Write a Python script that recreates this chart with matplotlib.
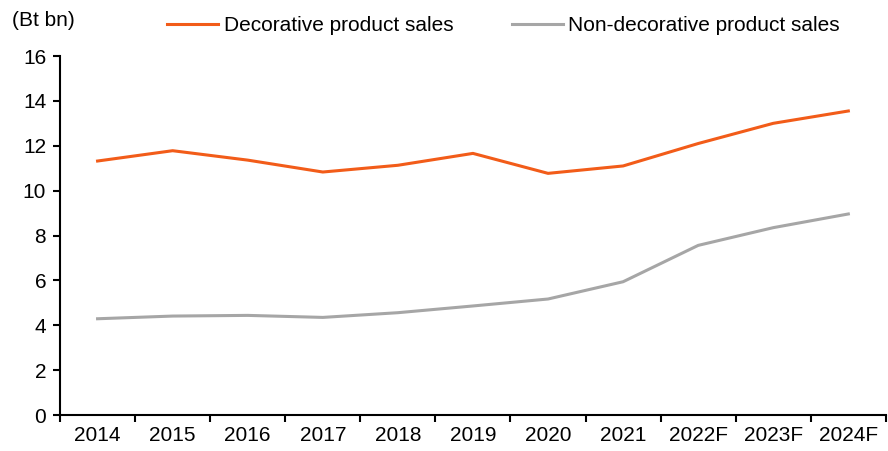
import numpy as np
import matplotlib.pyplot as plt

plt.rcParams['font.family'] = ['Liberation Sans', 'DejaVu Sans']

# data
years = ['2014', '2015', '2016', '2017', '2018', '2019', '2020', '2021', '2022F', '2023F', '2024F']
decorative = [11.32, 11.78, 11.36, 10.83, 11.13, 11.66, 10.77, 11.10, 12.10, 13.00, 13.55]
non_decorative = [4.29, 4.41, 4.44, 4.35, 4.56, 4.86, 5.17, 5.94, 7.56, 8.35, 8.96]

fig = plt.figure(figsize=(8.88, 4.51), dpi=100)
ax = fig.add_axes([0.0676, 0.0798, 0.930, 0.796])

x = np.arange(len(years))
ax.plot(x, decorative, color='#F25C19', lw=2.2, label='Decorative product sales')
ax.plot(x, non_decorative, color='#A6A6A6', lw=2.2, label='Non-decorative product sales')

ax.set_xlim(-0.5, len(years) - 0.5)
ax.set_ylim(0, 16)
ax.set_yticks(np.arange(0, 17, 2))
ax.set_xticks(x)
ax.set_xticklabels(years)
# tick marks sit between the categories
ax.set_xticks(np.arange(-0.5, len(years), 1), minor=True)
ax.tick_params(axis='x', which='major', length=0, labelsize=15, pad=8)
ax.tick_params(axis='x', which='minor', length=5, width=1.5, direction='out')
ax.tick_params(axis='y', length=5, width=1.5, labelsize=15, pad=5)

for side in ['top', 'right']:
    ax.spines[side].set_visible(False)
for side in ['left', 'bottom']:
    ax.spines[side].set_linewidth(1.5)

fig.text(0.013, 0.955, '(Bt bn)', fontsize=15, va='center', ha='left')
fig.legend(loc='center', bbox_to_anchor=(0.567, 0.943), ncol=2, frameon=False,
           fontsize=15, handlelength=2.45, handletextpad=0.25, columnspacing=2.8)

fig.savefig('out.png', dpi=100)
